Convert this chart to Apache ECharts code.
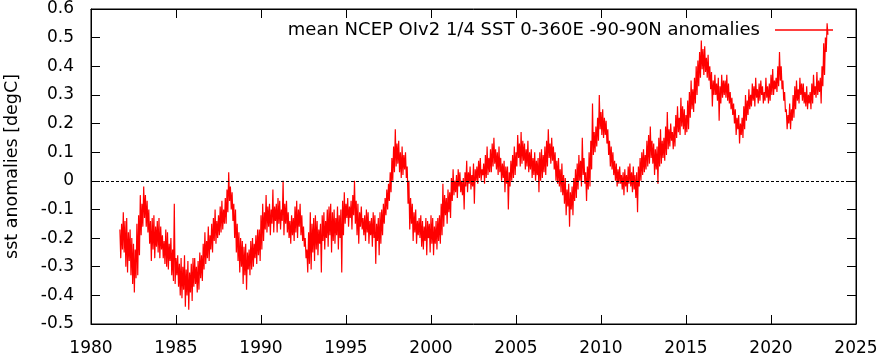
<!DOCTYPE html>
<html>
<head>
<meta charset="utf-8">
<script src="https://cdn.jsdelivr.net/npm/echarts@6/dist/echarts.min.js"></script>
<style>
html, body { margin: 0; padding: 0; background: #fff; }
#chart { width: 878px; height: 354px; }
</style>
</head>
<body>
<div id="chart"></div>
<script>
var myChart = echarts.init(document.getElementById('chart'));

// sampling grid of the trace: first point and spacing, in years
var startYear = 1981.7;
var step = 0.05;

// sst anomalies; every 0.2 yr two (upper, lower) spikes
var sst1980s = [
    -0.17, -0.27, -0.15, -0.24,  -0.11, -0.25, -0.14, -0.30,
    -0.13, -0.32, -0.18, -0.28,  -0.17, -0.33, -0.20, -0.36,  -0.22, -0.39, -0.24, -0.34,  -0.15, -0.33, -0.12, -0.26,  -0.05, -0.19, -0.08, -0.16,
    -0.02, -0.13, -0.05, -0.16,  -0.07, -0.18, -0.10, -0.22,  -0.14, -0.28, -0.13, -0.24,  -0.12, -0.27, -0.16, -0.23,  -0.14, -0.25, -0.13, -0.27,
    -0.16, -0.24, -0.19, -0.27,  -0.21, -0.29, -0.17, -0.30,  -0.18, -0.31, -0.22, -0.28,  -0.20, -0.33, -0.24, -0.35,  -0.08, -0.36, -0.27, -0.33,
    -0.26, -0.37, -0.29, -0.40,  -0.27, -0.41, -0.30, -0.38,  -0.26, -0.44, -0.31, -0.40,  -0.28, -0.45, -0.32, -0.39,  -0.29, -0.42, -0.27, -0.37,
    -0.27, -0.36, -0.30, -0.39,  -0.28, -0.38, -0.25, -0.34,  -0.26, -0.35, -0.22, -0.31,  -0.18, -0.29, -0.21, -0.27,  -0.16, -0.28, -0.19, -0.24,
    -0.15, -0.25, -0.13, -0.21,  -0.10, -0.22, -0.14, -0.20,  -0.12, -0.19, -0.09, -0.18,  -0.07, -0.17, -0.10, -0.15,  -0.06, -0.15, -0.03, -0.11,
    0.03, -0.07, -0.02, -0.10,  -0.04, -0.14, -0.08, -0.20,  -0.10, -0.25, -0.15, -0.28,  -0.18, -0.32, -0.20, -0.30,  -0.21, -0.36, -0.23, -0.33,
    -0.22, -0.38, -0.25, -0.31,  -0.24, -0.33, -0.21, -0.31,  -0.20, -0.30, -0.22, -0.27,  -0.19, -0.29, -0.17, -0.26,  -0.17, -0.28, -0.12, -0.24
];
var sst1990s = [
    -0.08, -0.21, -0.11, -0.17,  -0.05, -0.18, -0.09, -0.16,  -0.08, -0.19, -0.10, -0.15,  -0.03, -0.18, -0.09, -0.14,  -0.08, -0.18, -0.06, -0.15,
    -0.07, -0.17, -0.10, -0.14,  0.00, -0.19, -0.08, -0.15,  -0.07, -0.18, -0.11, -0.20,  -0.14, -0.22, -0.12, -0.19,  -0.13, -0.21, -0.09, -0.18,
    -0.07, -0.20, -0.10, -0.16,  -0.08, -0.19, -0.12, -0.21,  -0.16, -0.23, -0.20, -0.27,  -0.24, -0.32, -0.18, -0.29,  -0.11, -0.31, -0.15, -0.25,
    -0.13, -0.28, -0.12, -0.24,  -0.14, -0.26, -0.17, -0.22,  -0.15, -0.32, -0.12, -0.21,  -0.11, -0.24, -0.14, -0.20,  -0.10, -0.23, -0.09, -0.19,
    -0.08, -0.25, -0.11, -0.21,  -0.10, -0.22, -0.13, -0.19,  -0.09, -0.24, -0.12, -0.20,  -0.10, -0.32, -0.07, -0.19,  -0.04, -0.15, -0.08, -0.13,
    -0.06, -0.16, -0.09, -0.13,  -0.07, -0.17, -0.05, -0.12,  0.00, -0.15, -0.07, -0.19,  -0.08, -0.22, -0.11, -0.16,  -0.09, -0.17, -0.13, -0.19,
    -0.12, -0.21, -0.10, -0.18,  -0.11, -0.22, -0.14, -0.19,  -0.13, -0.23, -0.11, -0.20,  -0.12, -0.29, -0.15, -0.21,  -0.13, -0.26, -0.11, -0.22,
    -0.10, -0.19, -0.08, -0.15,  -0.06, -0.12, -0.03, -0.10,  -0.01, -0.07, 0.03, -0.04,  0.08, 0.00, 0.12, 0.03,  0.18, 0.05, 0.13, 0.06,
    0.14, 0.03, 0.10, 0.01,  0.12, 0.02, 0.09, 0.04,  0.10, 0.01, 0.05, -0.08,  0.00, -0.17, -0.06, -0.15,  -0.08, -0.21, -0.11, -0.18,
    -0.10, -0.22, -0.14, -0.19,  -0.13, -0.20, -0.12, -0.23,  -0.14, -0.24, -0.16, -0.21,  -0.13, -0.26, -0.14, -0.20,  -0.15, -0.25, -0.12, -0.22
];
var sst2000s = [
    -0.13, -0.26, -0.16, -0.22,  -0.14, -0.24, -0.13, -0.21,  -0.12, -0.22, -0.08, -0.19,  -0.01, -0.16, -0.05, -0.12,  -0.06, -0.15, -0.03, -0.11,
    -0.04, -0.13, 0.01, -0.07,  0.04, -0.05, 0.00, -0.04,  0.02, -0.06, 0.04, -0.02,  0.03, -0.04, 0.00, -0.05,  0.01, -0.10, 0.03, -0.02,
    0.07, -0.04, 0.03, -0.01,  0.05, -0.03, 0.02, -0.02,  0.06, -0.08, 0.04, 0.00,  0.05, -0.01, 0.07, 0.01,  0.08, 0.00, 0.04, 0.02,
    0.06, -0.01, 0.09, 0.01,  0.12, 0.02, 0.08, 0.03,  0.11, 0.03, 0.13, 0.05,  0.15, 0.06, 0.11, 0.04,  0.10, 0.02, 0.12, 0.03,
    0.08, 0.00, 0.06, 0.01,  0.07, -0.04, 0.05, -0.01,  0.05, -0.10, 0.03, -0.02,  0.07, 0.00, 0.09, 0.01,  0.12, 0.02, 0.10, 0.05,
    0.16, 0.08, 0.13, 0.05,  0.17, 0.06, 0.14, 0.07,  0.13, 0.04, 0.11, 0.05,  0.14, 0.03, 0.10, 0.04,  0.11, 0.01, 0.08, 0.02,
    0.10, 0.00, 0.07, 0.02,  0.08, -0.04, 0.10, 0.00,  0.11, 0.01, 0.09, 0.03,  0.12, 0.02, 0.14, 0.05,  0.18, 0.08, 0.13, 0.06,
    0.15, 0.07, 0.12, 0.04,  0.10, 0.00, 0.07, -0.01,  0.08, -0.02, 0.04, -0.04,  0.06, -0.05, 0.02, -0.08,  0.01, -0.12, -0.03, -0.09,
    -0.01, -0.16, -0.04, -0.10,  -0.02, -0.12, 0.01, -0.07,  0.04, -0.06, 0.06, -0.03,  0.09, 0.00, 0.07, -0.02,  0.15, 0.02, 0.08, -0.01,
    0.03, -0.07, 0.05, -0.03,  0.10, -0.02, 0.14, 0.04,  0.27, 0.09, 0.17, 0.10,  0.19, 0.12, 0.22, 0.14,  0.30, 0.18, 0.24, 0.16
];
var sst2010s = [
    0.25, 0.15, 0.22, 0.16,  0.21, 0.13, 0.18, 0.09,  0.14, 0.05, 0.12, 0.04,  0.10, 0.02, 0.07, 0.00,  0.06, -0.02, 0.04, -0.01,
    0.05, -0.01, 0.02, -0.03,  0.03, -0.05, 0.04, -0.02,  0.02, -0.04, 0.05, -0.01,  0.06, -0.02, 0.03, -0.04,  0.05, -0.03, 0.02, -0.06,
    0.03, -0.11, 0.05, -0.02,  0.08, 0.00, 0.10, 0.02,  0.11, 0.03, 0.09, 0.04,  0.14, 0.05, 0.16, 0.06,  0.19, 0.08, 0.14, 0.06,
    0.13, 0.02, 0.11, 0.04,  0.12, -0.01, 0.15, 0.05,  0.18, 0.06, 0.14, 0.08,  0.15, 0.07, 0.19, 0.09,  0.24, 0.11, 0.18, 0.12,
    0.20, 0.14, 0.17, 0.11,  0.19, 0.12, 0.23, 0.15,  0.26, 0.17, 0.22, 0.16,  0.29, 0.19, 0.26, 0.18,  0.25, 0.16, 0.23, 0.17,
    0.28, 0.18, 0.31, 0.22,  0.35, 0.25, 0.32, 0.24,  0.36, 0.27, 0.40, 0.30,  0.42, 0.33, 0.45, 0.36,  0.49, 0.39, 0.46, 0.37,
    0.47, 0.38, 0.43, 0.36,  0.44, 0.35, 0.40, 0.32,  0.38, 0.26, 0.35, 0.30,  0.37, 0.30, 0.34, 0.28,  0.36, 0.21, 0.33, 0.27,
    0.37, 0.29, 0.35, 0.30,  0.35, 0.29, 0.37, 0.28,  0.34, 0.27, 0.31, 0.25,  0.29, 0.23, 0.27, 0.20,  0.25, 0.16, 0.22, 0.18,
    0.23, 0.13, 0.20, 0.16,  0.22, 0.15, 0.26, 0.18,  0.30, 0.21, 0.28, 0.23,  0.32, 0.25, 0.30, 0.26,  0.34, 0.28, 0.33, 0.26,
    0.36, 0.29, 0.32, 0.27,  0.34, 0.28, 0.35, 0.30,  0.33, 0.27, 0.31, 0.28,  0.36, 0.29, 0.33, 0.27,  0.34, 0.28, 0.37, 0.30
];
var sst2020s = [
    0.39, 0.30, 0.35, 0.32,  0.36, 0.31, 0.40, 0.33,  0.45, 0.35, 0.40, 0.32,  0.35, 0.28, 0.31, 0.24,  0.25, 0.18, 0.23, 0.20,
    0.27, 0.18, 0.25, 0.21,  0.30, 0.22, 0.33, 0.25,  0.35, 0.28, 0.32, 0.27,  0.36, 0.30, 0.34, 0.28,  0.34, 0.27, 0.31, 0.26,
    0.33, 0.25, 0.30, 0.27,  0.31, 0.25, 0.34, 0.27,  0.37, 0.30, 0.33, 0.29,  0.38, 0.30, 0.35, 0.31,  0.36, 0.27, 0.40, 0.33,
    0.48, 0.37, 0.50, 0.45,  0.55, 0.51
];

var seriesName = 'mean NCEP OIv2 1/4 SST 0-360E -90-90N anomalies';
var font = 'DejaVu Sans';

var allValues = sst1980s.concat(sst1990s, sst2000s, sst2010s, sst2020s);
var lineData = [];
for (var i = 0; i < allValues.length; i++) {
    lineData.push([+(startYear + i * step).toFixed(2), allValues[i]]);
}

var black = '#000';
var tick = { inside: true, length: 9, lineStyle: { color: black, width: 1 } };
var frameLine = { show: true, onZero: false, lineStyle: { color: black, width: 1 } };

var option = {
    animation: false,
    textStyle: { fontFamily: font },
    grid: {
        left: 91, right: 22, top: 9, bottom: 30,
        outerBoundsMode: 'none',
        containLabel: false,
        show: true, borderColor: black, borderWidth: 1
    },
    legend: {
        data: [seriesName],
        right: 40,
        top: 16,
        align: 'right',
        icon: 'rect',
        itemWidth: 58,
        itemHeight: 1.5,
        textStyle: { color: black, fontSize: 18, fontFamily: font, padding: [0, 10, 0, 0] }
    },
    xAxis: [{
        type: 'value',
        min: 1980, max: 2025, interval: 5,
        position: 'bottom',
        axisLine: frameLine,
        axisTick: tick,
        axisLabel: {
            color: black, fontSize: 17, margin: 16,
            formatter: function (v) { return String(v); }
        },
        splitLine: { show: false }
    }, {
        type: 'value',
        min: 1980, max: 2025, interval: 5,
        position: 'top',
        axisLine: frameLine,
        axisTick: tick,
        axisLabel: { show: false },
        splitLine: { show: false }
    }],
    yAxis: [{
        type: 'value',
        min: -0.5, max: 0.6, interval: 0.1,
        position: 'left',
        name: 'sst anomalies [degC]',
        nameLocation: 'middle',
        nameRotate: 90,
        nameGap: 70,
        nameTextStyle: { color: black, fontSize: 17.5, fontFamily: font },
        axisLine: frameLine,
        axisTick: tick,
        axisLabel: {
            color: black, fontSize: 17, margin: 17,
            formatter: function (v) {
                return Math.abs(v) < 1e-9 ? '0' : v.toFixed(1);
            }
        },
        splitLine: { show: false }
    }, {
        type: 'value',
        min: -0.5, max: 0.6, interval: 0.1,
        position: 'right',
        axisLine: frameLine,
        axisTick: tick,
        axisLabel: { show: false },
        splitLine: { show: false }
    }],
    series: [{
        name: seriesName,
        type: 'line',
        data: lineData,
        showSymbol: false,
        symbol: 'none',
        sampling: 'none',
        color: '#ff0000',
        lineStyle: { color: '#ff0000', width: 1.2 },
        markLine: {
            silent: true,
            symbol: ['none', 'none'],
            label: { show: false },
            lineStyle: { color: black, type: [3, 2], width: 1 },
            data: [{ yAxis: 0 }]
        },
        z: 2
    }]
};
myChart.setOption(option);
</script>
</body>
</html>
